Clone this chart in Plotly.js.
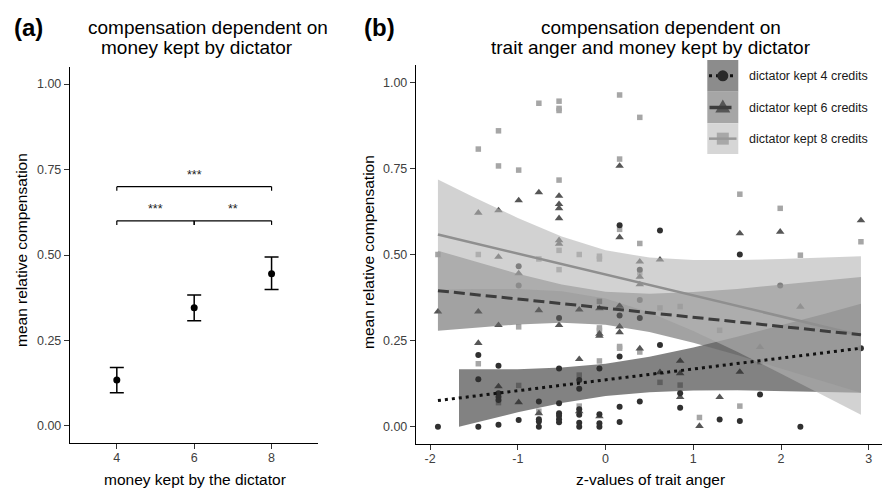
<!DOCTYPE html>
<html>
<head>
<meta charset="utf-8">
<script src="https://cdn.plot.ly/plotly-3.0.1.min.js"></script>
<style>html,body{margin:0;padding:0;background:#fff;}#chart{width:887px;height:489px;}</style>
</head>
<body>
<div id="chart"></div>
<script>
// ---------- Panel (a) data ----------
const money = [4, 6, 8];
const meanComp = [0.134, 0.346, 0.445];
const ciUpper = [0.171, 0.383, 0.494];
const ciLower = [0.097, 0.308, 0.399];
// significance brackets: [from, to, height, label]
const sigFrom = [4, 6, 4];
const sigTo = [6, 8, 8];
const sigY = [0.60, 0.60, 0.70];
const sigLabel = ['***', '**', '***'];

// ---------- Panel (b) data ----------
const anger4 = [-1.91,
  -1.45,-1.45,-1.45,
  -1.22,-1.22,-1.22,-1.22,-1.22,
  -0.99,-0.99,-0.99,
  -0.76,-0.76,-0.76,-0.76,
  -0.53,-0.53,-0.53,-0.53,-0.53,-0.53,-0.53,
  -0.30,-0.30,-0.30,-0.30,-0.30,-0.30,
  -0.07,-0.07,-0.07,-0.07,
  0.16,0.16,0.16,0.16,0.16,
  0.39,0.39,0.39,0.39,
  0.62,0.62,
  0.85,0.85,
  1.30,
  1.53,1.53,
  1.76,
  1.99,
  2.22,
  2.91];
const comp4 = [0.00,
  0.208,0.138,0.00,
  0.177,0.097,0.087,0.078,0.006,
  0.466,0.41,0.02,
  0.073,0.022,0.015,0.00,
  0.316,0.169,0.068,0.039,0.032,0.022,0.013,
  0.136,0.11,0.051,0.035,0.012,0.00,
  0.169,0.036,0.01,0.00,
  0.585,0.323,0.204,0.058,0.014,
  0.456,0.368,0.316,0.073,
  0.570,0.237,
  0.097,0.055,
  0.021,
  0.50,0.017,
  0.094,
  0.41,
  0.00,
  0.228];

const anger6 = [-1.91,
  -1.45,-1.45,-1.45,
  -1.22,-1.22,-1.22,-1.22,
  -0.99,-0.99,-0.99,
  -0.76,-0.76,-0.76,
  -0.53,-0.53,-0.53,-0.53,-0.53,-0.53,-0.53,
  -0.30,-0.30,-0.30,
  -0.07,-0.07,-0.07,-0.07,
  0.16,0.16,0.16,0.16,0.16,
  0.39,0.39,0.39,0.39,
  0.62,0.62,
  0.85,0.85,0.85,
  1.07,
  1.30,
  1.53,1.53,
  1.76,
  1.99,
  2.22,
  2.91];
const comp6 = [0.334,
  0.621,0.334,0.243,
  0.628,0.493,0.295,0.117,
  0.657,0.445,0.071,
  0.680,0.338,0.039,
  0.670,0.646,0.634,0.605,0.541,0.531,0.295,
  0.34,0.196,0.045,
  0.344,0.27,0.264,0.03,
  0.757,0.55,0.351,0.291,0.274,
  0.479,0.435,0.413,0.227,
  0.485,0.158,
  0.191,0.155,0.086,
  0.002,
  0.086,
  0.561,0.159,
  0.231,
  0.566,
  0.348,
  0.599];

const anger8 = [-1.91,
  -1.45,-1.45,-1.45,
  -1.22,-1.22,-1.22,
  -0.99,-0.99,-0.99,
  -0.76,-0.76,-0.76,
  -0.53,-0.53,-0.53,-0.53,-0.53,-0.53,
  -0.30,-0.30,-0.30,
  -0.07,-0.07,-0.07,-0.07,-0.07,-0.07,
  0.16,0.16,0.16,0.16,0.16,
  0.39,0.39,0.39,0.39,
  0.62,0.62,
  0.85,0.85,
  1.07,
  1.30,
  1.53,1.53,
  1.76,
  1.99,
  2.22,
  2.91];
const comp8 = [0.50,
  0.806,0.50,0.183,
  0.859,0.757,0.07,
  0.745,0.29,0.12,
  0.939,0.487,0.045,
  0.945,0.924,0.918,0.716,0.512,0.456,
  0.50,0.15,0.06,
  0.495,0.487,0.364,0.287,0.28,0.191,
  0.963,0.777,0.573,0.233,0.228,
  0.898,0.532,0.447,0.217,
  0.345,0.129,
  0.349,0.121,
  0.027,
  0.280,
  0.675,0.06,
  0.189,
  0.634,
  0.498,
  0.537];

// fitted regression lines (end points)
const fitX = [-1.91, 2.91];
const fit4 = [0.076, 0.228];
const fit6 = [0.395, 0.267];
const fit8 = [0.558, 0.265];

// confidence ribbons
const band4X = [-1.67, -1.5, -1, -0.5, 0, 0.5, 1, 1.5, 2, 2.5, 2.91];
const band4Lo = [0.0, 0.011, 0.042, 0.069, 0.089, 0.100, 0.105, 0.106, 0.104, 0.101, 0.099];
const band4Hi = [0.167, 0.167, 0.167, 0.172, 0.183, 0.203, 0.230, 0.261, 0.294, 0.328, 0.357];
const bandX = [-1.91, -1.5, -1, -0.5, 0, 0.5, 1, 1.5, 2, 2.5, 2.91];
const band6Lo = [0.279, 0.288, 0.297, 0.302, 0.296, 0.275, 0.244, 0.208, 0.170, 0.131, 0.099];
const band6Hi = [0.511, 0.480, 0.444, 0.413, 0.392, 0.386, 0.391, 0.400, 0.412, 0.424, 0.435];
const band8Lo = [0.398, 0.400, 0.400, 0.393, 0.372, 0.332, 0.278, 0.218, 0.154, 0.089, 0.035];
const band8Hi = [0.718, 0.666, 0.606, 0.552, 0.512, 0.491, 0.484, 0.484, 0.487, 0.491, 0.495];

const legendLabels = ['dictator kept 4 credits', 'dictator kept 6 credits', 'dictator kept 8 credits'];

// ---------- helpers ----------
const W = 887, H = 489;
const fx = p => p / W;
const fy = p => 1 - p / H;
const FONT = 'Liberation Sans, Arial, Helvetica, sans-serif';

function ribbon(x, lo, hi, color) {
  return {
    x: x.concat(x.slice().reverse()),
    y: hi.concat(lo.slice().reverse()),
    xaxis: 'x2', yaxis: 'y2', type: 'scatter', mode: 'lines',
    fill: 'toself', fillcolor: color, line: {width: 0, color: 'rgba(0,0,0,0)'},
    hoverinfo: 'skip', showlegend: false
  };
}

const traces = [
  // panel a
  {
    x: money, y: meanComp, type: 'scatter', mode: 'markers',
    xaxis: 'x', yaxis: 'y',
    marker: {color: '#000', size: 7},
    error_y: {type: 'data', symmetric: false,
      array: ciUpper.map((u, i) => u - meanComp[i]),
      arrayminus: ciLower.map((l, i) => meanComp[i] - l),
      color: '#000', thickness: 1.5, width: 7},
    showlegend: false
  },
  // panel b points
  {x: anger8, y: comp8, xaxis: 'x2', yaxis: 'y2', type: 'scatter', mode: 'markers',
   marker: {symbol: 'square', size: 5.5, color: '#a6a6a6'}, showlegend: false},
  {x: anger6, y: comp6, xaxis: 'x2', yaxis: 'y2', type: 'scatter', mode: 'markers',
   marker: {symbol: 'triangle-up', size: 7.5, color: '#565656'}, showlegend: false},
  {x: anger4, y: comp4, xaxis: 'x2', yaxis: 'y2', type: 'scatter', mode: 'markers',
   marker: {symbol: 'circle', size: 6, color: '#303030'}, showlegend: false},
  // ribbons
  ribbon(band4X, band4Lo, band4Hi, 'rgba(47,47,47,0.6)'),
  ribbon(bandX, band6Lo, band6Hi, 'rgba(100,100,100,0.6)'),
  ribbon(bandX, band8Lo, band8Hi, 'rgba(180,180,180,0.6)'),
  // fit lines
  {x: fitX, y: fit8, xaxis: 'x2', yaxis: 'y2', type: 'scatter', mode: 'lines',
   line: {color: '#8f8f8f', width: 2.5}, showlegend: false},
  {x: fitX, y: fit6, xaxis: 'x2', yaxis: 'y2', type: 'scatter', mode: 'lines',
   line: {color: '#3d3d3d', width: 3, dash: '11px,5px'}, showlegend: false},
  {x: fitX, y: fit4, xaxis: 'x2', yaxis: 'y2', type: 'scatter', mode: 'lines',
   line: {color: '#111', width: 3, dash: '3px,4px'}, showlegend: false}
];

const axisCommon = {
  showline: true, linecolor: '#000', linewidth: 1.2, mirror: false,
  ticks: 'outside', ticklen: 5, tickwidth: 1, tickcolor: '#333',
  showgrid: false, zeroline: false,
  tickfont: {family: FONT, size: 12.5, color: '#404040'}, fixedrange: true
};
const yTicks = [0, 0.25, 0.5, 0.75, 1];

const shapes = [];
const annotations = [];

// significance brackets
for (let i = 0; i < sigFrom.length; i++) {
  const a = sigFrom[i], b = sigTo[i], h = sigY[i], t = 0.012;
  shapes.push({type: 'line', xref: 'x', yref: 'y', x0: a, x1: b, y0: h, y1: h, line: {color: '#000', width: 1.2}});
  shapes.push({type: 'line', xref: 'x', yref: 'y', x0: a, x1: a, y0: h, y1: h - t, line: {color: '#000', width: 1.2}});
  shapes.push({type: 'line', xref: 'x', yref: 'y', x0: b, x1: b, y0: h, y1: h - t, line: {color: '#000', width: 1.2}});
  annotations.push({xref: 'x', yref: 'y', x: (a + b) / 2, y: h, yanchor: 'bottom', yshift: 3,
    text: sigLabel[i], showarrow: false, font: {family: FONT, size: 12.5, color: '#222'}});
}

// titles
function txt(x, y, text, size, opts) {
  annotations.push(Object.assign({xref: 'paper', yref: 'paper', x: fx(x), y: fy(y), text: text,
    showarrow: false, xanchor: 'left', yanchor: 'middle',
    font: {family: FONT, size: size, color: '#000'}}, opts || {}));
}
txt(12, 27, '<b>(a)</b>', 24);
txt(86, 27, 'compensation dependent on', 19);
txt(99, 47, 'money kept by dictator', 19);
txt(362, 27, '<b>(b)</b>', 24);
txt(539, 27, 'compensation dependent on', 19);
txt(489, 47, 'trait anger and money kept by dictator', 19);
// axis titles
txt(195, 479, 'money kept by the dictator', 15.5, {xanchor: 'center'});
txt(650, 479, 'z-values of trait anger', 15.5, {xanchor: 'center'});
txt(21, 250, 'mean relative compensation', 15.5, {xanchor: 'center', textangle: -90});
txt(368, 252, 'mean relative compensation', 15.5, {xanchor: 'center', textangle: -90});

// legend (manual)
const keyX0 = 707.3, keyX1 = 738.3, keyCx = 722.8;
const rowTop = [60, 91.7, 123.3], rowBot = [91.7, 123.3, 154];
const keyFill = ['#8c8c8c', '#a6a6a6', '#d6d6d6'];
const P = (x, y) => fx(x) + ',' + fy(y);
for (let i = 0; i < 3; i++) {
  shapes.push({type: 'rect', xref: 'paper', yref: 'paper', x0: fx(keyX0), x1: fx(keyX1),
    y0: fy(rowBot[i]), y1: fy(rowTop[i]), fillcolor: keyFill[i], line: {width: 0}});
  txt(746.5, (rowTop[i] + rowBot[i]) / 2, legendLabels[i], 12.5, {font: {family: FONT, size: 12.5, color: '#1a1a1a'}});
}
// key 4: dotted line + circle
const c4 = (rowTop[0] + rowBot[0]) / 2;
shapes.push({type: 'line', xref: 'paper', yref: 'paper', x0: fx(709), x1: fx(737), y0: fy(c4), y1: fy(c4),
  line: {color: '#111', width: 3, dash: '3px,4px'}});
shapes.push({type: 'circle', xref: 'paper', yref: 'paper', x0: fx(keyCx - 5.5), x1: fx(keyCx + 5.5),
  y0: fy(c4 + 5.5), y1: fy(c4 - 5.5), fillcolor: '#2a2a2a', line: {width: 0}});
// key 6: dashed line + triangle
const c6 = (rowTop[1] + rowBot[1]) / 2;
shapes.push({type: 'path', xref: 'paper', yref: 'paper',
  path: 'M' + P(keyCx - 7.5, c6 + 5) + ' L' + P(keyCx + 7.5, c6 + 5) + ' L' + P(keyCx, c6 - 8) + ' Z',
  fillcolor: '#565656', line: {width: 0}});
shapes.push({type: 'line', xref: 'paper', yref: 'paper', x0: fx(709.5), x1: fx(731.5), y0: fy(c6), y1: fy(c6),
  line: {color: '#3d3d3d', width: 3.5}});
// key 8: solid line + square
const c8 = (rowTop[2] + rowBot[2]) / 2;
shapes.push({type: 'rect', xref: 'paper', yref: 'paper', x0: fx(keyCx - 6), x1: fx(keyCx + 6),
  y0: fy(c8 + 6), y1: fy(c8 - 6), fillcolor: '#a8a8a8', line: {width: 0}});
shapes.push({type: 'line', xref: 'paper', yref: 'paper', x0: fx(709), x1: fx(736.5), y0: fy(c8), y1: fy(c8),
  line: {color: '#999', width: 2.5}});

const layout = {
  width: W, height: H,
  margin: {l: 0, r: 0, t: 0, b: 0, pad: 0},
  paper_bgcolor: '#fff', plot_bgcolor: '#fff',
  showlegend: false,
  font: {family: FONT},
  xaxis: Object.assign({}, axisCommon, {domain: [fx(70), fx(318)], range: [2.79, 9.2],
    tickvals: money, ticktext: money.map(String), anchor: 'y', ticklabelstandoff: -2}),
  yaxis: Object.assign({}, axisCommon, {domain: [fy(443), fy(67)], range: [-0.05, 1.05],
    tickvals: yTicks, ticktext: yTicks.map(v => v.toFixed(2)), anchor: 'x'}),
  xaxis2: Object.assign({}, axisCommon, {domain: [fx(416), fx(882)], range: [-2.16, 3.15],
    tickvals: [-2, -1, 0, 1, 2, 3], ticktext: ['-2', '-1', '0', '1', '2', '3'], anchor: 'y2', ticklabelstandoff: -2}),
  yaxis2: Object.assign({}, axisCommon, {domain: [fy(444), fy(65)], range: [-0.05, 1.05],
    tickvals: yTicks, ticktext: yTicks.map(v => v.toFixed(2)), anchor: 'x2'}),
  shapes: shapes,
  annotations: annotations
};

Plotly.newPlot('chart', traces, layout, {staticPlot: true, displayModeBar: false});
</script>
</body>
</html>
